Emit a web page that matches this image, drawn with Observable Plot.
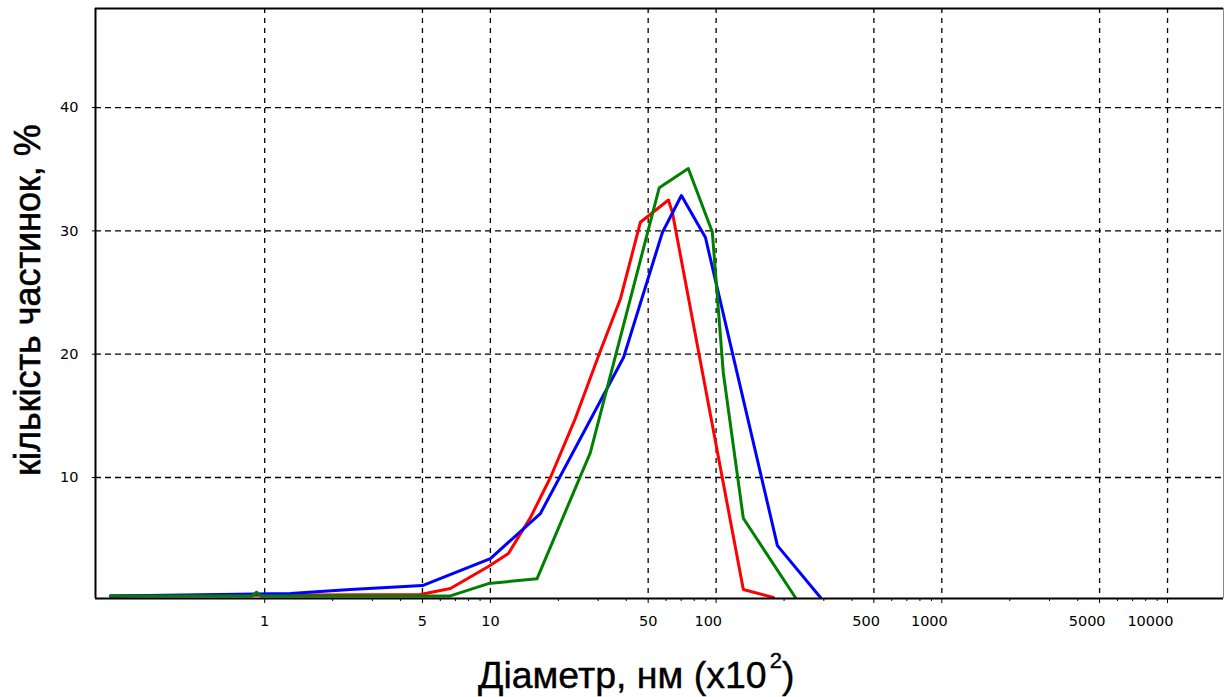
<!DOCTYPE html>
<html>
<head>
<meta charset="utf-8">
<script src="https://cdn.jsdelivr.net/npm/d3@7"></script>
<script src="https://cdn.jsdelivr.net/npm/@observablehq/plot@0.6"></script>
<style>
  body { margin: 0; background: #fff; }
  #chart svg { display: block; }
</style>
</head>
<body>
<div id="chart"></div>
<script>
// ---- data (diameter in nm ×10², share of particles in %) ----
const redDiameter   = [0.207, 4.9, 6.65, 9.8, 12.02, 15.04, 18.45, 23.8, 30.4, 37.7, 46.2, 61.5, 64.0, 132, 179.5];
const redPercent    = [0.4, 0.51, 1.0, 2.78, 3.84, 6.75, 10.0, 14.8, 20.05, 24.5, 30.7, 32.5, 31.5, 0.92, 0.27];

const blueDiameter  = [0.207, 1.3, 2.4, 5.0, 10.0, 16.65, 38.9, 57.8, 70.2, 89.7, 186.9, 290];
const bluePercent   = [0.4, 0.59, 0.92, 1.24, 3.43, 7.08, 19.73, 29.87, 32.87, 29.46, 4.48, 0.27];

const greenDiameter = [0.207, 0.88, 0.92, 0.96, 6.65, 9.8, 16.1, 27.7, 56, 75.3, 96.2, 107.6, 132, 224.5];
const greenPercent  = [0.4, 0.4, 0.7, 0.4, 0.4, 1.4, 1.8, 12.0, 33.5, 35.05, 29.9, 18.5, 6.7, 0.27];

const xMajorTicksSmall = [1, 5, 10, 50];
const xMajorTicksLarge = [100, 500, 1000, 5000, 10000];
const xMinorTicks = [2, 3, 4, 6, 7, 8, 9, 20, 30, 40, 60, 70, 80, 90, 200, 300, 400, 600, 700, 800, 900,
                     2000, 3000, 4000, 6000, 7000, 8000, 9000];
const yTicks = [10, 20, 30, 40];
const xDomain = [0.178, 17700];
const yDomain = [0.19, 48.03];

const yLabel = "кількість частинок, %";
const xLabelMain = "Діаметр, нм (x10";
const xLabelSup = "2";
const xLabelEnd = ")";

const toRows = (xs, ys) => xs.map((d, i) => ({d, p: ys[i]}));
const red = toRows(redDiameter, redPercent);
const blue = toRows(blueDiameter, bluePercent);
const green = toRows(greenDiameter, greenPercent);

const tickFont = {fontSize: 14.5, fontFamily: "DejaVu Sans"};

const svg = Plot.plot({
  width: 1225,
  height: 697,
  marginLeft: 95,
  marginRight: 2,
  marginTop: 8,
  marginBottom: 99,
  style: {fontFamily: "DejaVu Sans", fontSize: "14.5px", color: "#000", background: "#fff"},
  x: {type: "log", domain: xDomain},
  y: {type: "linear", domain: yDomain},
  marks: [
    Plot.ruleY(yTicks, {stroke: "#000", strokeWidth: 1.3, strokeDasharray: "6,4"}),
    Plot.ruleX([...xMajorTicksSmall, ...xMajorTicksLarge], {stroke: "#000", strokeWidth: 1.3, strokeDasharray: "5,5"}),
    Plot.axisY(yTicks, {tickSize: 3, tickPadding: 14, label: null, ...tickFont}),
    Plot.axisX([...xMajorTicksSmall, ...xMajorTicksLarge], {tickSize: 5, tickPadding: 12, label: null, tickFormat: () => ""}),
    Plot.axisX(xMinorTicks, {tickSize: 3, tickPadding: 0, label: null, tickFormat: () => ""}),
    Plot.text(xMajorTicksSmall, {x: d => d, y: yDomain[0], text: d => String(d), dy: 17, lineAnchor: "top", textAnchor: "middle", fill: "#000", ...tickFont}),
    Plot.text(xMajorTicksLarge, {x: d => d, y: yDomain[0], text: d => String(d), dy: 17, dx: 6, lineAnchor: "top", textAnchor: "end", fill: "#000", ...tickFont}),
    Plot.line(red, {x: "d", y: "p", stroke: "#ff0000", strokeWidth: 3}),
    Plot.line(blue, {x: "d", y: "p", stroke: "#0000ff", strokeWidth: 3}),
    Plot.line(green, {x: "d", y: "p", stroke: "#008000", strokeWidth: 3}),
    Plot.ruleX([xDomain[0]], {stroke: "#000", strokeWidth: 2}),
    Plot.ruleX([xDomain[1]], {stroke: "#888", strokeWidth: 1}),
    Plot.ruleY([yDomain[0]], {stroke: "#000", strokeWidth: 2}),
    Plot.ruleY([yDomain[1]], {stroke: "#000", strokeWidth: 2})
  ]
});

const s = d3.select(svg);
s.append("text")
  .attr("transform", "translate(40,300) rotate(-90)")
  .attr("text-anchor", "middle")
  .style("font-family", "'Liberation Sans', Arial, sans-serif")
  .style("font-size", "36px")
  .attr("fill", "#000")
  .attr("stroke", "#000")
  .attr("stroke-width", 0.6)
  .text(yLabel);

const xl = s.append("text")
  .attr("x", 478)
  .attr("y", 688)
  .attr("text-anchor", "start")
  .style("font-family", "'Liberation Sans', Arial, sans-serif")
  .style("font-size", "37.5px")
  .attr("fill", "#000")
  .attr("stroke", "#000")
  .attr("stroke-width", 0.4);
xl.append("tspan").text(xLabelMain);
xl.append("tspan").attr("dx", 3).attr("dy", -20).style("font-size", "22px").text(xLabelSup);
xl.append("tspan").attr("dy", 20).text(xLabelEnd);

document.getElementById("chart").appendChild(svg);
</script>
</body>
</html>
